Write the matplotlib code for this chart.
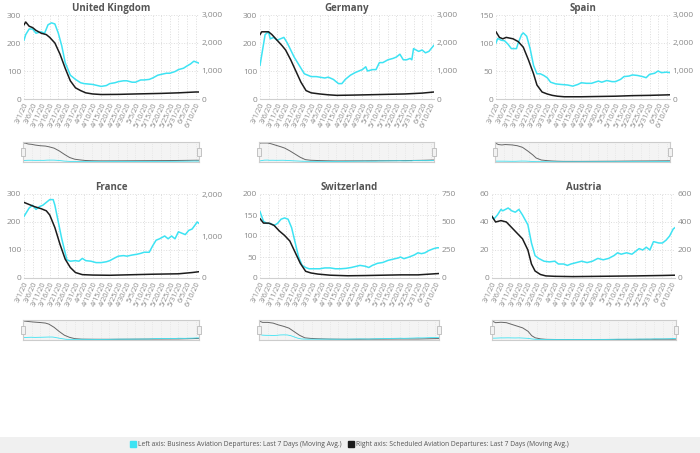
import matplotlib
matplotlib.use("Agg")
import matplotlib.pyplot as plt
from matplotlib.patches import Rectangle
from matplotlib.lines import Line2D
from matplotlib.ticker import FuncFormatter

plt.rcParams['font.family'] = ['Open Sans', 'DejaVu Sans']

# x tick labels, one every 5 days (index 0..100)
date_labels = ['3/1/20', '3/6/20', '3/11/20', '3/16/20', '3/21/20', '3/26/20', '3/31/20',
               '4/5/20', '4/10/20', '4/15/20', '4/20/20', '4/25/20', '4/30/20', '5/5/20',
               '5/10/20', '5/15/20', '5/20/20', '5/25/20', '5/31/20', '6/5/20', '6/10/20']
date_pos = [0, 5, 10, 15, 20, 25, 30, 35, 40, 45, 50, 55, 60, 65, 70, 75, 80, 85, 90, 95, 100]

# United Kingdom
uk_biz_days = [0, 1, 3, 5, 7, 10, 12, 14, 16, 18, 20, 22, 24, 27, 30, 33, 35, 40, 45, 48, 50, 53, 55, 58, 60, 63, 65, 68, 70, 73, 75, 78, 80, 83, 85, 88, 90, 93, 95, 97, 99, 102]
uk_biz = [210, 230, 250, 250, 235, 240, 235, 265, 272, 268, 235, 190, 130, 85, 70, 58, 55, 52, 45, 48, 55, 58, 62, 65, 65, 60, 60, 68, 68, 70, 75, 85, 88, 92, 92, 98, 105, 110, 118, 125, 135, 128]
uk_sched_days = [0, 1, 3, 5, 7, 10, 13, 15, 18, 21, 24, 27, 30, 33, 36, 40, 45, 55, 65, 80, 90, 100, 102]
uk_sched = [2650, 2750, 2600, 2550, 2450, 2350, 2300, 2200, 2000, 1600, 1100, 650, 400, 300, 220, 180, 160, 165, 180, 200, 220, 250, 250]

# Germany
de_biz_days = [0, 3, 5, 6, 8, 10, 14, 16, 20, 23, 26, 30, 33, 35, 38, 40, 43, 46, 48, 50, 53, 56, 58, 60, 62, 63, 66, 68, 70, 72, 75, 78, 80, 82, 84, 86, 88, 89, 90, 93, 95, 97, 99, 101, 102]
de_biz = [120, 230, 240, 215, 220, 210, 220, 200, 150, 120, 90, 80, 80, 78, 75, 78, 70, 55, 55, 70, 85, 95, 100, 105, 115, 100, 105, 105, 130, 130, 140, 145, 150, 160, 140, 140, 145, 140, 180, 170, 175, 165, 170, 185, 192]
de_sched_days = [0, 1, 5, 7, 10, 13, 15, 18, 21, 24, 27, 30, 35, 40, 45, 55, 70, 85, 95, 102]
de_sched = [2300, 2400, 2400, 2300, 2100, 1900, 1750, 1400, 1000, 600, 300, 220, 180, 150, 130, 140, 160, 180, 210, 250]

# Spain
es_biz_days = [0, 1, 3, 5, 7, 9, 11, 12, 13, 15, 16, 18, 20, 22, 24, 26, 28, 30, 32, 35, 38, 42, 45, 48, 50, 53, 56, 60, 62, 65, 68, 70, 73, 75, 78, 80, 83, 86, 88, 90, 93, 95, 97, 100, 102]
es_biz = [100, 108, 105, 104, 98, 90, 90, 90, 100, 115, 118, 112, 90, 60, 45, 45, 42, 38, 30, 27, 26, 25, 23, 26, 29, 28, 28, 32, 30, 33, 31, 31, 35, 40, 41, 43, 42, 40, 38, 44, 46, 50, 47, 48, 47]
es_sched_days = [0, 2, 4, 6, 10, 13, 16, 19, 22, 24, 27, 30, 33, 36, 40, 50, 60, 70, 80, 90, 102]
es_sched = [2400, 2200, 2150, 2200, 2150, 2050, 1850, 1400, 900, 500, 250, 180, 130, 100, 80, 80, 90, 100, 120, 130, 150]

# France
fr_biz_days = [0, 3, 5, 7, 9, 11, 13, 15, 17, 18, 20, 22, 24, 25, 27, 30, 32, 34, 36, 39, 42, 45, 48, 50, 53, 55, 58, 60, 63, 66, 68, 70, 73, 75, 77, 79, 82, 84, 86, 88, 90, 92, 94, 96, 98, 101, 102]
fr_biz = [220, 250, 260, 245, 255, 260, 270, 280, 280, 260, 200, 140, 90, 65, 60, 62, 60, 70, 62, 60, 55, 55, 58, 62, 72, 78, 80, 78, 82, 85, 88, 92, 92, 115, 135, 140, 150, 140, 150, 140, 165, 160, 155, 170, 175, 200, 195]
fr_sched_days = [0, 3, 6, 10, 13, 15, 18, 21, 24, 27, 30, 34, 40, 50, 60, 75, 90, 98, 102]
fr_sched = [1800, 1750, 1700, 1650, 1600, 1500, 1200, 800, 450, 250, 130, 80, 70, 65, 75, 90, 100, 130, 150]

# Switzerland
ch_biz_days = [0, 2, 4, 6, 8, 10, 12, 14, 16, 18, 20, 22, 24, 26, 28, 31, 34, 37, 40, 43, 46, 49, 52, 55, 57, 60, 62, 64, 67, 70, 73, 76, 79, 80, 82, 85, 88, 90, 92, 94, 96, 99, 101, 102]
ch_biz = [158, 135, 130, 130, 125, 130, 140, 143, 140, 120, 85, 50, 30, 25, 22, 22, 22, 24, 24, 22, 22, 23, 25, 28, 30, 28, 25, 30, 35, 37, 42, 45, 48, 50, 46, 50, 55, 60, 58, 60, 65, 70, 72, 72]
ch_sched_days = [0, 2, 5, 8, 11, 14, 17, 20, 23, 26, 29, 33, 40, 50, 60, 70, 80, 90, 97, 102]
ch_sched = [530, 490, 490, 470, 420, 380, 330, 230, 130, 60, 45, 35, 25, 20, 22, 25, 28, 28, 35, 40]

# Austria
at_biz_days = [0, 1, 3, 5, 6, 9, 11, 13, 15, 17, 20, 22, 24, 26, 29, 32, 35, 37, 40, 42, 44, 47, 50, 53, 56, 59, 62, 65, 68, 70, 72, 75, 78, 82, 84, 86, 88, 90, 93, 95, 97, 99, 101, 102]
at_biz = [44, 42, 45, 49, 48, 50, 48, 47, 49, 45, 38, 25, 16, 14, 12, 11.5, 12, 10, 10, 9, 10, 11, 12, 11, 12, 14, 13, 14, 16, 18, 17, 18, 17, 21, 20, 22, 20, 26, 25, 25, 27, 30, 35, 36]
at_sched_days = [0, 2, 5, 8, 11, 14, 17, 20, 22, 24, 27, 30, 35, 45, 60, 80, 95, 102]
at_sched = [440, 400, 410, 400, 360, 320, 280, 200, 100, 50, 25, 15, 12, 10, 12, 15, 18, 20]

countries = ['United Kingdom', 'Germany', 'Spain', 'France', 'Switzerland', 'Austria']
biz_days = [uk_biz_days, de_biz_days, es_biz_days, fr_biz_days, ch_biz_days, at_biz_days]
biz_vals = [uk_biz, de_biz, es_biz, fr_biz, ch_biz, at_biz]
sched_days = [uk_sched_days, de_sched_days, es_sched_days, fr_sched_days, ch_sched_days, at_sched_days]
sched_vals = [uk_sched, de_sched, es_sched, fr_sched, ch_sched, at_sched]
left_ticks = [[0, 100, 200, 300], [0, 100, 200, 300], [0, 50, 100, 150],
              [0, 100, 200, 300], [0, 50, 100, 150, 200], [0, 20, 40, 60]]
right_ticks = [[0, 1000, 2000, 3000], [0, 1000, 2000, 3000], [0, 1000, 2000, 3000],
               [0, 1000, 2000], [0, 250, 500, 750], [0, 200, 400, 600]]

# pixel boxes (left, right, top, bottom) for plots and navigators
plot_boxes = [(24, 199, 15, 99), (260, 434, 15, 99), (496, 670, 15, 99),
              (24, 199, 194, 278), (260, 439, 194, 278), (492, 675, 194, 278)]
nav_boxes = [(23, 199, 142, 162), (259, 434, 142, 162), (495, 670, 142, 162),
             (23, 199, 320, 340), (259, 439, 320, 340), (492, 676, 320, 340)]

W, H = 700, 453
CYAN = '#3de3f3'
BLACK = '#1c1c1c'
GRAY = '#8a8a8a'

fig = plt.figure(figsize=(W / 100, H / 100), dpi=100)


def px_box(b):
    l, r, t, bt = b
    return [l / W, 1 - bt / H, (r - l) / W, (bt - t) / H]


comma = FuncFormatter(lambda v, p: f'{int(v):,}')

for i in range(6):
    ax = fig.add_axes(px_box(plot_boxes[i]))
    ax2 = ax.twinx()
    ax.plot(biz_days[i], biz_vals[i], color=CYAN, lw=1.1, zorder=3)
    ax2.plot(sched_days[i], sched_vals[i], color=BLACK, lw=1.1, zorder=3)
    ax.set_xlim(0, 102)
    ax.set_ylim(left_ticks[i][0], left_ticks[i][-1])
    ax2.set_ylim(right_ticks[i][0], right_ticks[i][-1])
    ax.set_yticks(left_ticks[i])
    ax2.set_yticks(right_ticks[i])
    ax.yaxis.set_major_formatter(comma)
    ax2.yaxis.set_major_formatter(comma)
    ax.set_xticks(date_pos)
    ax.set_xticklabels(date_labels, rotation=65, ha='right', rotation_mode='anchor')
    ax.grid(True, color='#dddddd', ls=':', lw=0.7)
    for a in (ax, ax2):
        for s in a.spines.values():
            s.set_visible(False)
        a.tick_params(length=0, colors=GRAY, labelsize=6, pad=2)
    ax.spines['bottom'].set_visible(True)
    ax.spines['bottom'].set_color('#d0d0d0')
    ax.tick_params(axis='x', labelsize=5.3, pad=2)
    ax.set_title(countries[i], fontsize=7, fontweight='bold', color='#555555', pad=3)

    # navigator below each chart
    nav = fig.add_axes(px_box(nav_boxes[i]))
    nav.set_facecolor('#f4f4f4')
    nav.plot(sched_days[i], sched_vals[i], color='#666666', lw=0.7)
    nav.plot(biz_days[i], biz_vals[i], color=CYAN, lw=0.6)
    nav.set_xlim(0, 102)
    nav.set_ylim(0, max(sched_vals[i]) * 1.05)
    nav.set_xticks(date_pos)
    nav.set_yticks([])
    nav.tick_params(length=0, labelbottom=False)
    nav.grid(True, axis='x', color='#e4e4e4', ls=':', lw=0.6)
    for s in nav.spines.values():
        s.set_color('#cccccc')
        s.set_linewidth(0.8)
    for hx in (0, 1):
        nav.add_patch(Rectangle((hx - 0.012, 0.32), 0.024, 0.36, transform=nav.transAxes,
                                facecolor='#f2f2f2', edgecolor='#bbbbbb', lw=0.6,
                                clip_on=False, zorder=5))

# legend band
fig.patches.append(Rectangle((0, 0), 1, 16 / H, transform=fig.transFigure,
                             facecolor='#f0f0f0', edgecolor='none', zorder=0))
handles = [Line2D([], [], marker='s', ls='', color=CYAN, markersize=5),
           Line2D([], [], marker='s', ls='', color=BLACK, markersize=5)]
labels = ['Left axis: Business Aviation Departures: Last 7 Days (Moving Avg.)',
          'Right axis: Scheduled Aviation Departures: Last 7 Days (Moving Avg.)']
leg = fig.legend(handles, labels, loc='center', bbox_to_anchor=(349 / W, 8 / H), ncol=2,
                 frameon=False, fontsize=4.9, handletextpad=0.3, columnspacing=0.8,
                 handlelength=1.0)
for t in leg.get_texts():
    t.set_color('#555555')

fig.savefig('out.png', dpi=100)
